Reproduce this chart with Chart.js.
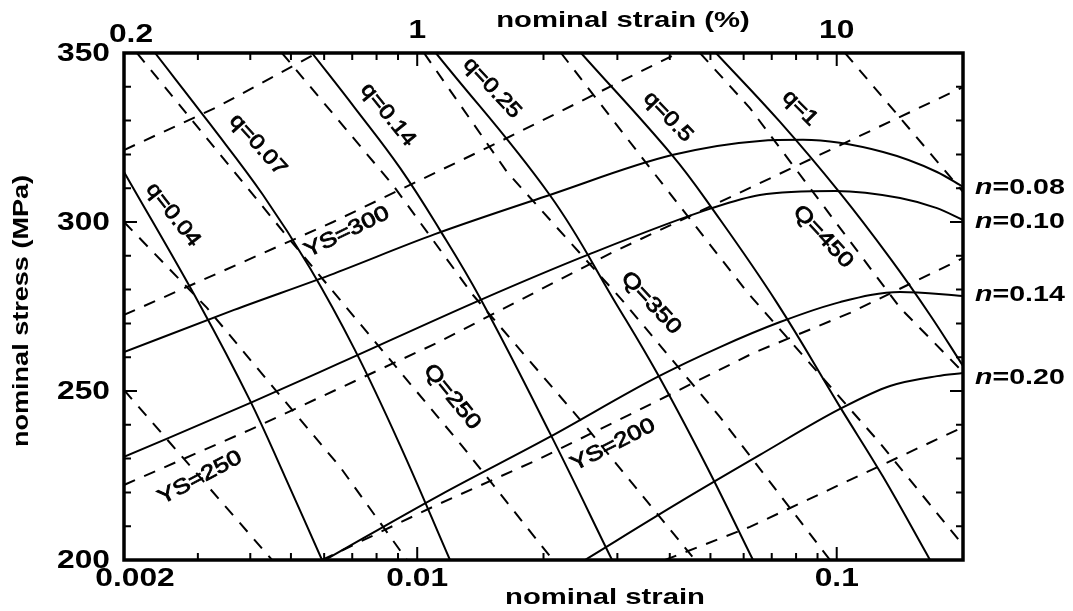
<!DOCTYPE html>
<html>
<head>
<meta charset="utf-8">
<script src="https://cdn.jsdelivr.net/npm/chart.js@4.4.1/dist/chart.umd.min.js"></script>
<style>
  html, body { margin: 0; padding: 0; background: #fff; }
  canvas { display: block; }
</style>
</head>
<body>
<canvas id="grafico" width="1073" height="611"></canvas>
<script>
// curvas n (solidas, sobem)
const nLabels = ['n=0.08', 'n=0.10', 'n=0.14', 'n=0.20'];
const nStrain = [
    [0.002, 0.00366, 0.00619, 0.01102, 0.0207, 0.0405, 0.0656, 0.0831, 0.129, 0.1734, 0.2],
    [0.002, 0.00399, 0.00655, 0.01412, 0.0254, 0.0504, 0.0656, 0.0991, 0.1416, 0.1734, 0.2],
    [0.00603, 0.01133, 0.0207, 0.0373, 0.0527, 0.07326, 0.1018, 0.1416, 0.2],
    [0.0251, 0.0423, 0.0656, 0.1018, 0.134, 0.1734, 0.2]
];
const nStress = [
    [261.5, 274.0, 284.3, 296.4, 308.0, 319.8, 324.0, 324.3, 320.7, 314.8, 310.4],
    [230.5, 246.4, 258.3, 276.9, 290.2, 304.1, 308.0, 309.2, 307.1, 304.1, 300.6],
    [200, 219.2, 236.4, 254.1, 263.0, 270.4, 276.3, 279.3, 278.1],
    [200, 217.2, 231.1, 244.7, 251.5, 254.4, 255.3]
];
const nLabelStress = [310, 300, 278.5, 254];

// curvas q (solidas, descem)
const qLabels = ['q=0.04', 'q=0.07', 'q=0.14', 'q=0.25', 'q=0.5', 'q=1'];
const qStrain = [
    [0.002, 0.003036, 0.00399, 0.00484, 0.00593],
    [0.002372, 0.003206, 0.00429, 0.00555, 0.007106, 0.009098, 0.01197],
    [0.005613, 0.007106, 0.009098, 0.01133, 0.01412, 0.0207, 0.02914],
    [0.01108, 0.0207, 0.02994, 0.0373, 0.04906, 0.06316],
    [0.02458, 0.0405, 0.0504, 0.0721, 0.1018, 0.129, 0.1669],
    [0.05155, 0.07326, 0.1018, 0.134, 0.1669, 0.2]
];
const qStress = [
    [314.8, 275.4, 247.3, 224.6, 200],
    [350, 329.0, 308.0, 286.4, 262.1, 234.0, 200],
    [350, 333.7, 316.0, 297.6, 277.5, 237.6, 200],
    [350, 308.0, 275.4, 255.3, 227.5, 200],
    [350, 319.8, 304.1, 276.0, 245.3, 224.6, 200],
    [350, 329.6, 308.6, 289.3, 272.5, 257.4]
];
const qLabelStrain = [0.002618, 0.004172, 0.008518, 0.01508, 0.03962, 0.08174];
const qLabelStress = [302.1, 322.8, 331.7, 339.6, 331.1, 333.7];
const qLabelAngle = [52, 48, 51, 47, 46, 45];

// linhas YS (tracejadas, sobem)
const ysStrain = [
    [0.002, 0.003332, 0.005768],
    [0.002, 0.0063, 0.01516, 0.03588, 0.04184],
    [0.002, 0.00399, 0.01114, 0.0293, 0.0621, 0.2],
    [0.00593, 0.01114, 0.0193, 0.0327, 0.06316, 0.1076, 0.2],
    [0.03898, 0.0621, 0.1076, 0.2]
];
const ysStress = [
    [321.3, 334.0, 350],
    [272.5, 300.0, 322.8, 345.9, 350],
    [222.2, 238.5, 264.2, 291.1, 310.1, 339.9],
    [200, 216.3, 229.6, 243.5, 261.2, 273.1, 289.3],
    [200, 209.8, 223.7, 239.3]
];
const ysLabels = ['YS=300', 'YS=250', 'YS=200'];
const ysLabelStrain = [0.0068, 0.003036, 0.0293];
const ysLabelStress = [297.0, 224.3, 234.0];
const ysLabelAngle = [-26, -28, -27];

// linhas Q (tracejadas, descem)
const bigQStrain = [
    [0.002, 0.004508],
    [0.002, 0.003154, 0.004384, 0.00655, 0.009454],
    [0.002148, 0.004974, 0.01286, 0.02106],
    [0.00476, 0.008754, 0.01358, 0.02485, 0.04594],
    [0.01038, 0.01637, 0.03078, 0.0527, 0.09638],
    [0.02202, 0.03588, 0.06112, 0.1268, 0.2],
    [0.04722, 0.0621, 0.1416, 0.2],
    [0.1047, 0.2]
];
const bigQStress = [
    [250.3, 200],
    [300, 274.6, 253.3, 227.5, 200],
    [350, 294.7, 233.4, 200],
    [350, 310.9, 278.4, 240.5, 200],
    [350, 314.8, 276.9, 242.3, 200],
    [350, 316.0, 279.3, 234.6, 204.4],
    [350, 333.7, 274.6, 255.6],
    [350, 308.9]
];
const bigQLabels = ['Q=250', 'Q=350', 'Q=450'];
const bigQLabelStrain = [0.0121, 0.03608, 0.09278];
const bigQLabelStress = [248.2, 276.0, 295.6];
const bigQLabelAngle = [51, 47, 47];

// eixos
const strainTicks = [0.002, 0.003, 0.004, 0.005, 0.006, 0.007, 0.008, 0.009, 0.01,
    0.02, 0.03, 0.04, 0.05, 0.06, 0.07, 0.08, 0.09, 0.1, 0.2];
const strainMajor = [0.01, 0.1];
const strainLabelValues = [0.002, 0.01, 0.1];
const strainLabels = ['0.002', '0.01', '0.1'];
const percentLabels = ['0.2', '1', '10'];
const stressTicks = [200, 210, 220, 230, 240, 250, 260, 270, 280, 290, 300, 310, 320, 330, 340, 350];
const stressLabelValues = [200, 250, 300, 350];
const stressLabels = ['200', '250', '300', '350'];

const FONTE = '"Liberation Sans", Arial, sans-serif';

function pontos(xs, ys) {
    return xs.map((v, i) => ({ x: v, y: ys[i] }));
}

function texto(ctx, s, x, y, fonte, sx, rot, align, contorno) {
    ctx.save();
    ctx.translate(x, y);
    if (rot) ctx.rotate(rot * Math.PI / 180);
    ctx.scale(sx, 1);
    ctx.font = fonte;
    ctx.textAlign = align || 'center';
    ctx.textBaseline = 'middle';
    ctx.fillText(s, 0, 0);
    if (contorno) {
        ctx.lineWidth = contorno;
        ctx.strokeText(s, 0, 0);
    }
    ctx.restore();
}

const datasets = [];
nStrain.forEach((xs, i) => datasets.push({
    label: nLabels[i], data: pontos(xs, nStress[i]),
    borderColor: '#000', borderWidth: 2, cubicInterpolationMode: 'monotone'
}));
qStrain.forEach((xs, i) => datasets.push({
    label: qLabels[i], data: pontos(xs, qStress[i]),
    borderColor: '#000', borderWidth: 2, tension: 0.4
}));
ysStrain.forEach((xs, i) => datasets.push({
    label: 'YS', data: pontos(xs, ysStress[i]),
    borderColor: '#000', borderWidth: 2, borderDash: [12, 10], tension: 0
}));
bigQStrain.forEach((xs, i) => datasets.push({
    label: 'Q', data: pontos(xs, bigQStress[i]),
    borderColor: '#000', borderWidth: 2, borderDash: [12, 10], tension: 0
}));
datasets.forEach(d => { d.showLine = true; d.pointRadius = 0; d.fill = false; });

const moldura = {
    id: 'moldura',
    afterDatasetsDraw(chart) {
        const { ctx, chartArea: a, scales: { x, y } } = chart;
        ctx.save();
        ctx.strokeStyle = '#000';
        ctx.fillStyle = '#000';
        ctx.lineWidth = 2;
        ctx.beginPath();
        strainTicks.forEach(v => {
            const px = x.getPixelForValue(v);
            const len = strainMajor.includes(v) ? 13 : 7;
            ctx.moveTo(px, a.bottom); ctx.lineTo(px, a.bottom - len);
            ctx.moveTo(px, a.top); ctx.lineTo(px, a.top + len);
        });
        stressTicks.forEach(v => {
            const py = y.getPixelForValue(v);
            const len = v % 50 === 0 ? 13 : 7;
            ctx.moveTo(a.left, py); ctx.lineTo(a.left + len, py);
            ctx.moveTo(a.right, py); ctx.lineTo(a.right - len, py);
        });
        ctx.stroke();
        ctx.lineWidth = 3.5;
        ctx.strokeRect(a.left, a.top, a.right - a.left, a.bottom - a.top);

        const negrito = 'bold 25px ' + FONTE;
        stressLabelValues.forEach((v, i) =>
            texto(ctx, stressLabels[i], a.left - 14, y.getPixelForValue(v) + 1, negrito, 1.27, 0, 'right'));
        strainLabelValues.forEach((v, i) => {
            const px = x.getPixelForValue(v) + (i === 0 ? 11 : 0);
            texto(ctx, strainLabels[i], px, a.bottom + 19, negrito, 1.27, 0);
            const pt = x.getPixelForValue(v) + (i === 0 ? 7 : 0);
            texto(ctx, percentLabels[i], pt, a.top - (i === 0 ? 18 : 22), negrito, 1.27, 0);
        });

        const titulo = 'bold 22px ' + FONTE;
        texto(ctx, 'nominal strain', 605, 598, titulo, 1.33, 0);
        texto(ctx, 'nominal strain (%)', 623, 21, titulo, 1.33, 0);
        texto(ctx, 'nominal stress (MPa)', 22, 311, titulo, 1.23, -90);

        // rotulos n a direita
        nLabels.forEach((s, i) => {
            const py = y.getPixelForValue(nLabelStress[i]);
            ctx.save();
            ctx.translate(a.right + 12, py);
            ctx.scale(1.3, 1);
            ctx.textBaseline = 'middle';
            ctx.textAlign = 'left';
            ctx.font = 'italic bold 22px ' + FONTE;
            ctx.fillText('n', 0, 0);
            const w = ctx.measureText('n').width;
            ctx.font = 'bold 22px ' + FONTE;
            ctx.fillText(s.slice(1), w, 0);
            ctx.restore();
        });

        const rotulo = '21px ' + FONTE;
        qLabels.forEach((s, i) => texto(ctx, s, x.getPixelForValue(qLabelStrain[i]),
            y.getPixelForValue(qLabelStress[i]), rotulo, 1.15, qLabelAngle[i], 'center', 0.8));
        ysLabels.forEach((s, i) => texto(ctx, s, x.getPixelForValue(ysLabelStrain[i]),
            y.getPixelForValue(ysLabelStress[i]), rotulo, 1.22, ysLabelAngle[i], 'center', 0.8));
        bigQLabels.forEach((s, i) => texto(ctx, s, x.getPixelForValue(bigQLabelStrain[i]),
            y.getPixelForValue(bigQLabelStress[i]), rotulo, 1.22, bigQLabelAngle[i], 'center', 0.8));
        ctx.restore();
    }
};

new Chart(document.getElementById('grafico').getContext('2d'), {
    type: 'scatter',
    data: { datasets: datasets },
    options: {
        responsive: false,
        animation: false,
        layout: { padding: { left: 124, right: 110, top: 53, bottom: 51 } },
        plugins: { legend: { display: false }, tooltip: { enabled: false } },
        scales: {
            x: { type: 'logarithmic', min: 0.002, max: 0.2, display: false },
            y: { type: 'linear', min: 200, max: 350, display: false }
        }
    },
    plugins: [moldura]
});
</script>
</body>
</html>
